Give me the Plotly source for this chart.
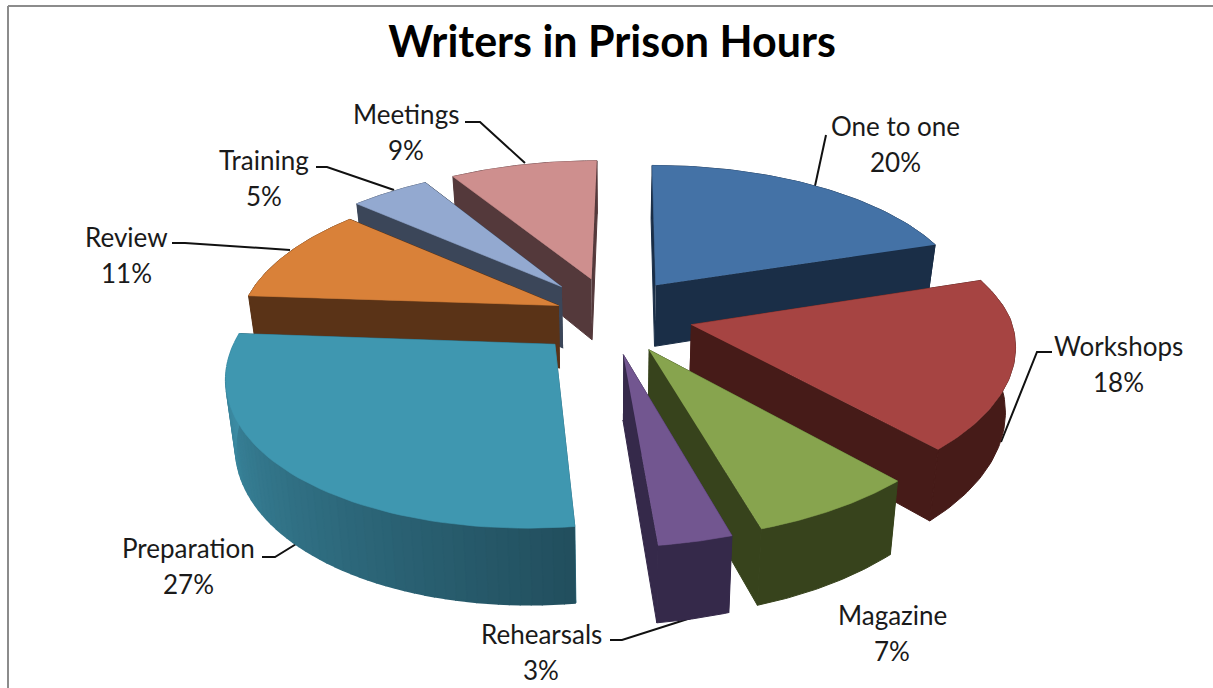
import numpy as np
import plotly.graph_objects as go

# activities, clockwise from 12 o'clock
labels = ["One to one", "Workshops", "Magazine", "Rehearsals", "Preparation", "Review", "Training", "Meetings"]
# printed on the chart
percents = [20, 18, 7, 3, 27, 11, 5, 9]
# slice sizes as measured on the picture (the 3D view does not follow the printed numbers exactly)
shares = [20.0, 17.9, 7.0, 3.1, 28.1, 10.4, 4.7, 8.8]
# how far each slice is pulled out, Review less than the rest
pulls = [0.26, 0.26, 0.26, 0.26, 0.26, 0.17, 0.26, 0.265]
# small per slice corrections: sideways px and radius
nudges = [0, 3, 0, 0, 8, 0, 5, 5]
radii = [1, 1, 1, 1, 0.98, 1, 1, 1]

top_colors = ["#4472a6", "#a64442", "#87a44e", "#725690", "#3f97b0", "#d98139", "#93a9d0", "#ce8f8e"]
wall_colors = ["#1a2e47", "#461b18", "#37431c", "#35294a", "#2f6f84", "#5a3317", "#3b4659", "#54393b"]

# where the label text sits (name line, percent line is below it)
label_x = [895, 1118, 892, 541, 188, 126, 264, 406]
label_y = [126, 346, 615, 634, 548, 237, 160, 114]

# leader lines, px
leaders = [
    [(826, 135), (815, 186)],
    [(1052, 352), (1037, 352), (1001, 442)],
    None,
    [(610, 640), (622, 640), (694, 617)],
    [(262, 557), (275, 557), (301, 541)],
    [(172, 243), (185, 243), (290, 250)],
    [(316, 167), (327, 167), (394, 190)],
    [(465, 122), (480, 122), (525, 163)],
]

# fake 3D view of the exploded pie
CX, CY = 608, 315
AX, AY = 318, 146
SHEAR_FRONT, SHEAR_BACK = 14, 3
FRONT_STRETCH = 1.03
HEIGHT = 63
PERSP = 0.15
BOTTOM_SHRINK = 0.025


def project(x, y, z=0.0):
    s = 1 / (1 + PERSP * y)
    shear = np.where(y < 0, SHEAR_FRONT, SHEAR_BACK)
    stretch = np.where(y < 0, FRONT_STRETCH, 1.0)
    sx = (AX * x * s + shear * y * s) * (1 - BOTTOM_SHRINK * z)
    return CX + sx, CY - AY * stretch * y * s + HEIGHT * s * z


def polygon(fig, xs, ys, color, width=1.0):
    fig.add_trace(go.Scatter(x=list(xs), y=list(ys), mode="lines", fill="toself", fillcolor=color,
                             line=dict(color=color, width=width), hoverinfo="skip", showlegend=False))


def mix(c1, c2, t):
    a = [int(c1[i:i + 2], 16) for i in (1, 3, 5)]
    b = [int(c2[i:i + 2], 16) for i in (1, 3, 5)]
    return "rgb(%d,%d,%d)" % tuple(round(p + (q - p) * t) for p, q in zip(a, b))


def draw_slice(fig, i, a0, a1):
    mid = (a0 + a1) / 2
    ox, oy = pulls[i] * np.sin(mid), pulls[i] * np.cos(mid)
    t = np.linspace(a0, a1, 60)
    wx, wy = ox + radii[i] * np.sin(t), oy + radii[i] * np.cos(t)
    tx, ty = project(wx, wy)
    bx, by = project(wx, wy, 1.0)
    ax_t, ay_t = project(ox, oy)
    ax_b, ay_b = project(ox, oy, 1.0)
    tx, bx = tx + nudges[i], bx + nudges[i]
    ax_t, ax_b = ax_t + nudges[i], ax_b + nudges[i]

    walls = [
        (oy + np.cos(a0) / 2, [ax_t, tx[0], bx[0], ax_b], [ay_t, ty[0], by[0], ay_b], wall_colors[i], 1),
        (oy + np.cos(a1) / 2, [ax_t, tx[-1], bx[-1], ax_b], [ay_t, ty[-1], by[-1], ay_b], wall_colors[i], 1),
    ]
    if labels[i] == "Preparation":
        # only this big one shows a visible gradient on the rim
        for k in range(len(t) - 1):
            shade = mix("#224f5e", "#3f92ab", k / (len(t) - 2))
            walls.append((-9, [tx[k], tx[k + 1], bx[k + 1], bx[k]], [ty[k], ty[k + 1], by[k + 1], by[k]], shade, 2))
    else:
        walls.append((oy + np.cos(mid), np.r_[tx, bx[::-1]], np.r_[ty, by[::-1]], wall_colors[i], 1))

    for _, xs, ys, color, width in sorted(walls, key=lambda w: -w[0]):
        polygon(fig, xs, ys, color, width)
    polygon(fig, np.r_[ax_t, tx], np.r_[ay_t, ty], top_colors[i], 0.6)


fig = go.Figure()

edges = np.r_[0, np.cumsum(shares)] / sum(shares) * 2 * np.pi
mids = (edges[:-1] + edges[1:]) / 2
# back slices first so the nearer ones paint over them
for i in sorted(range(len(labels)), key=lambda n: -np.cos(mids[n])):
    draw_slice(fig, i, edges[i], edges[i + 1])

shapes = [
    dict(type="line", x0=8, x1=1213, y0=6, y1=6, line=dict(color="#8c8c8c", width=2)),
    dict(type="line", x0=8, x1=8, y0=6, y1=688, line=dict(color="#8c8c8c", width=2)),
]
for pts in leaders:
    if pts:
        path = "M " + " L ".join(f"{x},{y}" for x, y in pts)
        shapes.append(dict(type="path", path=path, line=dict(color="#111111", width=2), layer="below"))

annotations = []
for name, pct, x, y in zip(labels, percents, label_x, label_y):
    annotations.append(dict(x=x, y=y, text=name, showarrow=False, font=dict(size=26)))
    annotations.append(dict(x=x, y=y + 36, text=f"{pct}%", showarrow=False, font=dict(size=26)))

fig.update_layout(
    width=1213, height=688,
    autosize=False,
    margin=dict(l=0, r=0, t=0, b=0),
    paper_bgcolor="white", plot_bgcolor="white",
    font=dict(family="Lato", color="#1a1a1a"),
    title=dict(text="<b>Writers in Prison Hours</b>", x=612 / 1213, y=1 - 42 / 688, xanchor="center", yanchor="middle",
               font=dict(family="Lato", size=43, color="#000000")),
    xaxis=dict(range=[0, 1213], visible=False, fixedrange=True),
    yaxis=dict(range=[688, 0], visible=False, fixedrange=True),
    shapes=shapes,
    annotations=annotations,
    showlegend=False,
)

# the page has a default 8px body margin, drop it so the px positions hold
fig.write_html("out.html", config=dict(displayModeBar=False),
               post_script="document.body.style.margin = '0'; document.body.style.overflow = 'hidden';")
